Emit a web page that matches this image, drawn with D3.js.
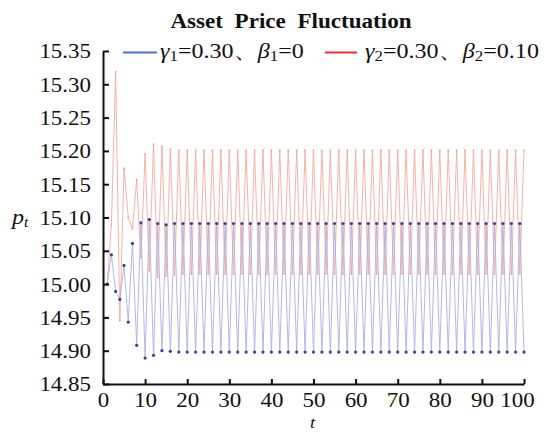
<!DOCTYPE html>
<html>
<head>
<meta charset="utf-8">
<script src="https://cdn.jsdelivr.net/npm/d3@7"></script>
<style>
  body { margin: 0; background: #fff; }
  text { font-family: "Liberation Serif", "Times New Roman", serif; fill: #111; }
</style>
</head>
<body>
<div id="chart"></div>
<script>
// Time steps
const tValues = d3.range(1, 101)

// gamma1 = 0.30, beta1 = 0  (blue)
const seriesBlue = [
    15.000, 15.044, 14.989, 14.977, 15.028, 14.943, 15.061, 14.908, 15.092, 14.889,
    15.097, 14.893, 15.091, 14.900, 15.089, 14.899, 15.091, 14.898, 15.091, 14.898,
    15.091, 14.898, 15.091, 14.898, 15.091, 14.898, 15.091, 14.898, 15.091, 14.898,
    15.091, 14.898, 15.091, 14.898, 15.091, 14.898, 15.091, 14.898, 15.091, 14.898,
    15.091, 14.898, 15.091, 14.898, 15.091, 14.898, 15.091, 14.898, 15.091, 14.898,
    15.091, 14.898, 15.091, 14.898, 15.091, 14.898, 15.091, 14.898, 15.091, 14.898,
    15.091, 14.898, 15.091, 14.898, 15.091, 14.898, 15.091, 14.898, 15.091, 14.898,
    15.091, 14.898, 15.091, 14.898, 15.091, 14.898, 15.091, 14.898, 15.091, 14.898,
    15.091, 14.898, 15.091, 14.898, 15.091, 14.898, 15.091, 14.898, 15.091, 14.898,
    15.091, 14.898, 15.091, 14.898, 15.091, 14.898, 15.091, 14.898, 15.091, 14.898
]

// gamma2 = 0.30, beta2 = 0.10  (red)
const seriesRed = [
    15.000, 15.090, 15.319, 14.945, 15.174, 15.100, 15.083, 15.157, 15.040, 15.195,
    15.020, 15.210, 15.010, 15.207, 15.012, 15.203, 15.014, 15.201, 15.015, 15.201,
    15.015, 15.201, 15.015, 15.201, 15.015, 15.201, 15.015, 15.201, 15.015, 15.201,
    15.015, 15.201, 15.015, 15.201, 15.015, 15.201, 15.015, 15.201, 15.015, 15.201,
    15.015, 15.201, 15.015, 15.201, 15.015, 15.201, 15.015, 15.201, 15.015, 15.201,
    15.015, 15.201, 15.015, 15.201, 15.015, 15.201, 15.015, 15.201, 15.015, 15.201,
    15.015, 15.201, 15.015, 15.201, 15.015, 15.201, 15.015, 15.201, 15.015, 15.201,
    15.015, 15.201, 15.015, 15.201, 15.015, 15.201, 15.015, 15.201, 15.015, 15.201,
    15.015, 15.201, 15.015, 15.201, 15.015, 15.201, 15.015, 15.201, 15.015, 15.201,
    15.015, 15.201, 15.015, 15.201, 15.015, 15.201, 15.015, 15.201, 15.015, 15.201
]

const xTicks = [0, 10, 20, 30, 40, 50, 60, 70, 80, 90, 100]
const yTicks = [14.85, 14.90, 14.95, 15.00, 15.05, 15.10, 15.15, 15.20, 15.25, 15.30, 15.35]

const width = 546
const height = 432
const stretch = 1.12

const svg = d3.select('#chart')
    .append('svg')
    .attr('width', width)
    .attr('height', height)

const x = d3.scaleLinear().domain([0, 100]).range([103, 524])
const y = d3.scaleLinear().domain([14.85, 15.35]).range([384, 51])

// helper for the slightly wide serif lettering
function wideText(parent, px, py, sx) {
    return parent.append('text')
        .attr('transform', `translate(${px},${py}) scale(${sx},1)`)
}

// lines
const line = d3.line()
    .x((d, i) => x(tValues[i]))
    .y(d => y(d))

svg.append('path')
    .datum(seriesRed)
    .attr('fill', 'none')
    .attr('stroke', '#f4aa9f')
    .attr('stroke-width', 0.9)
    .attr('d', line)

svg.append('g')
    .selectAll('circle')
    .data(seriesRed)
    .join('circle')
    .attr('cx', (d, i) => x(tValues[i]))
    .attr('cy', d => y(d))
    .attr('r', 1)
    .attr('fill', '#f08a74')
    .attr('opacity', 0.6)

svg.append('path')
    .datum(seriesBlue)
    .attr('fill', 'none')
    .attr('stroke', '#aeb0e2')
    .attr('stroke-width', 0.9)
    .attr('d', line)

svg.append('g')
    .selectAll('circle')
    .data(seriesBlue)
    .join('circle')
    .attr('cx', (d, i) => x(tValues[i]))
    .attr('cy', d => y(d))
    .attr('r', 1.6)
    .attr('fill', '#34409a')

// axes (ticks point inward)
const yAxis = svg.append('g')
    .attr('transform', `translate(${x(0)},0)`)
    .call(d3.axisLeft(y).tickValues(yTicks).tickFormat(d3.format('.2f')).tickSize(-6).tickSizeOuter(0))

const xAxis = svg.append('g')
    .attr('transform', `translate(0,${y(14.85)})`)
    .call(d3.axisBottom(x).tickValues(xTicks).tickSize(-5).tickSizeOuter(0))

svg.selectAll('.domain, .tick line')
    .attr('stroke', '#111')
    .attr('stroke-width', 2)

yAxis.selectAll('text')
    .attr('font-size', 20.5)
    .attr('x', -12 / stretch)
    .attr('dy', '0.34em')
    .attr('transform', `scale(${stretch},1)`)
    .attr('fill', '#111')

// last label sits a bit left of its tick, as in the original
xAxis.selectAll('text')
    .attr('font-size', 20.5)
    .attr('y', 23)
    .attr('dy', 0)
    .attr('x', d => d === 100 ? -7 / stretch : 0)
    .attr('transform', `scale(${stretch},1)`)
    .attr('fill', '#111')

// axis titles
const pt = wideText(svg, 12, 224, 1.1).attr('font-size', 22).attr('font-style', 'italic')
pt.append('tspan').text('p')
pt.append('tspan').attr('font-size', 14).attr('dy', 3).text('t')

wideText(svg, 310, 428, 1.1)
    .attr('font-size', 17)
    .attr('font-style', 'italic')
    .text('t')

// title
wideText(svg, 291, 28, 1.05)
    .attr('text-anchor', 'middle')
    .attr('font-size', 22)
    .attr('font-weight', 'bold')
    .text('Asset\u00a0\u00a0Price\u00a0\u00a0Fluctuation')

// legend
const legendItems = [
    { x1: 123, x2: 157, tx: 160, color: '#4f72c4', idx: '1', g: '0.30', b: '0' },
    { x1: 325, x2: 357, tx: 365, color: '#e0303c', idx: '2', g: '0.30', b: '0.10' }
]

legendItems.forEach(item => {
    svg.append('line')
        .attr('x1', item.x1)
        .attr('x2', item.x2)
        .attr('y1', 52.5)
        .attr('y2', 52.5)
        .attr('stroke', item.color)
        .attr('stroke-width', 2)

    const t = wideText(svg, item.tx, 58, stretch).attr('font-size', 21.5)
    t.append('tspan').attr('font-style', 'italic').text('γ')
    t.append('tspan').attr('font-size', 15).attr('dy', 3).text(item.idx)
    t.append('tspan').attr('dy', -3).text('=' + item.g + '、')
    t.append('tspan').attr('font-style', 'italic').text('β')
    t.append('tspan').attr('font-size', 15).attr('dy', 3).text(item.idx)
    t.append('tspan').attr('dy', -3).text('=' + item.b)
})
</script>
</body>
</html>
